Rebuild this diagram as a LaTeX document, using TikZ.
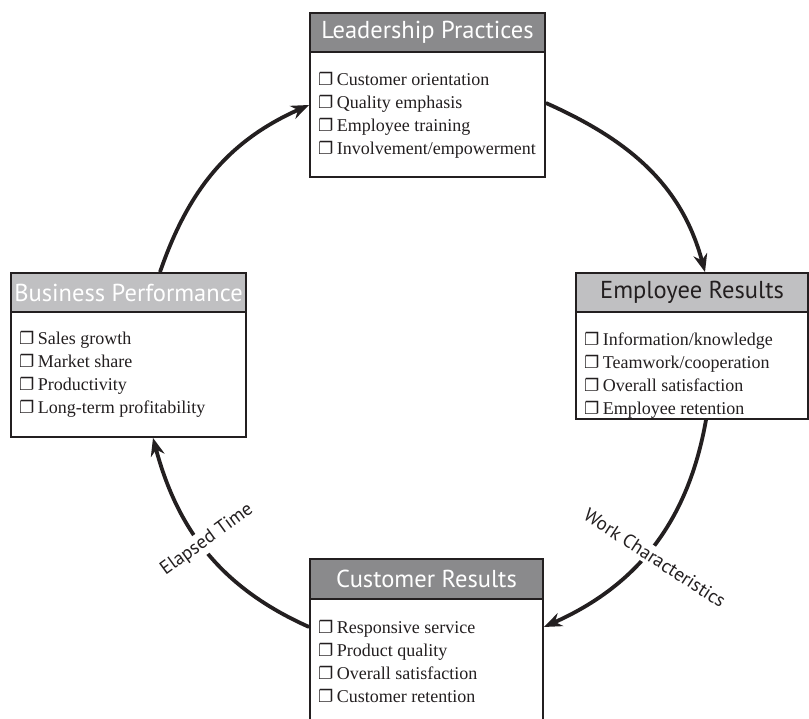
\documentclass[tikz,border=0pt]{standalone}
\usepackage{fontspec}
\setmainfont{Liberation Serif}
\newfontfamily\hdrfont{PT Sans}
\newfontfamily\symfont{DejaVu Sans}
\usetikzlibrary{arrows.meta}
\definecolor{hdark}{HTML}{8A8A8C}
\definecolor{hlight}{HTML}{C0C0C2}
\definecolor{ink}{HTML}{231F20}
\newcommand{\cbx}{{\symfont\fontsize{17}{17}\selectfont ❐}\hspace{3.5pt}}
\tikzset{
  boxframe/.style={draw=ink, line width=1.8pt, inner sep=0pt, fill=white},
  hdr/.style={draw=ink, line width=1.8pt, inner sep=0pt, font=\hdrfont\fontsize{24.5}{24.5}\selectfont},
  items/.style={align=left, inner sep=0pt, anchor=west, text=ink, font=\fontsize{18}{23}\selectfont},
  flow/.style={draw=ink, line width=3.8pt, -{Stealth[length=18pt,width=14pt]}},
  lbl/.style={font=\hdrfont\fontsize{19}{19}\selectfont, fill=white, inner sep=3pt, text=ink}
}
\begin{document}
\begin{tikzpicture}[x=1pt,y=1pt]
\useasboundingbox (0,0) rectangle (809,719);
% Leadership Practices
\node[boxframe, minimum width=235pt, minimum height=164pt] (lead) at (427.5,624) {};
\node[hdr, fill=hdark, text=white, minimum width=235pt, minimum height=39pt] (leadh) at (427.5,686.5) {Leadership Practices};
\node[items] (leadi) at (318,604) {\cbx Customer orientation\\ \cbx Quality emphasis\\ \cbx Employee training\\ \cbx Involvement/empowerment};
% Employee Results
\node[boxframe, minimum width=232pt, minimum height=146pt] (emp) at (692,373) {};
\node[hdr, fill=hlight, text=ink, minimum width=232pt, minimum height=39pt] (emph) at (692,426.5) {Employee Results};
\node[items] (empi) at (584,343.5) {\cbx Information/knowledge\\ \cbx Teamwork/cooperation\\ \cbx Overall satisfaction\\ \cbx Employee retention};
% Business Performance
\node[boxframe, minimum width=235pt, minimum height=164pt] (bus) at (128.5,364) {};
\node[hdr, fill=hlight, text=white, minimum width=235pt, minimum height=39pt] (bush) at (128.5,426.5) {Business Performance};
\node[items] (busi) at (19,344.5) {\cbx Sales growth\\ \cbx Market share\\ \cbx Productivity\\ \cbx Long-term profitability};
% Customer Results
\node[boxframe, minimum width=233pt, minimum height=191pt] (cust) at (426.5,64.5) {};
\node[hdr, fill=hdark, text=white, minimum width=233pt, minimum height=40pt] (custh) at (426.5,140) {Customer Results};
\node[items] (custi) at (318,58) {\cbx Responsive service\\ \cbx Product quality\\ \cbx Overall satisfaction\\ \cbx Customer retention};
% cycle connectors
\draw[flow] ([yshift=-8pt]lead.east) to[out=-24,in=105] ([xshift=13pt]emp.north);
\draw[flow] ([xshift=14pt]emp.south) to[out=-100,in=24] ([yshift=27.5pt]cust.east);
\draw[flow] ([yshift=27.5pt]cust.west) to[out=156,in=-75] ([xshift=24.5pt]bus.south);
\draw[flow] ([xshift=31.5pt]bus.north) to[out=71,in=204] ([yshift=-10pt]lead.west);
% labels
\node[lbl, rotate=-33] (work) at (655,161) {Work Characteristics};
\node[lbl, rotate=36] (elapsed) at (207,179) {Elapsed Time};
\end{tikzpicture}
\end{document}
